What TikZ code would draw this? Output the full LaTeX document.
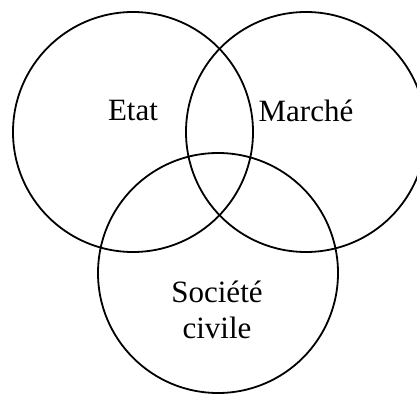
\documentclass[tikz,border=0pt]{standalone}
\usepackage{fontspec}
\setmainfont{Liberation Serif}
\begin{document}
\begin{tikzpicture}[x=1pt,y=1pt,
  ring/.style={draw=black, line width=1.8pt, circle, minimum size=240pt, inner sep=0pt},
  lbl/.style={anchor=base, inner sep=0pt, font=\fontsize{31}{36}\selectfont}]
\useasboundingbox (0,0) rectangle (417,394);
\begin{scope}
\clip (0,0) rectangle (417,394);
\node[ring] (etat) at (133,262) {};
\node[ring] (marche) at (306,262) {};
\node[ring] (societe) at (218,121) {};
\end{scope}
\node[lbl] (t1) at (133,273) {Etat};
\node[lbl] (t2) at (306,272) {Marché};
\node[lbl] (t3) at (217,92) {Société};
\node[lbl] (t4) at (217,56) {civile};
\end{tikzpicture}
\end{document}
